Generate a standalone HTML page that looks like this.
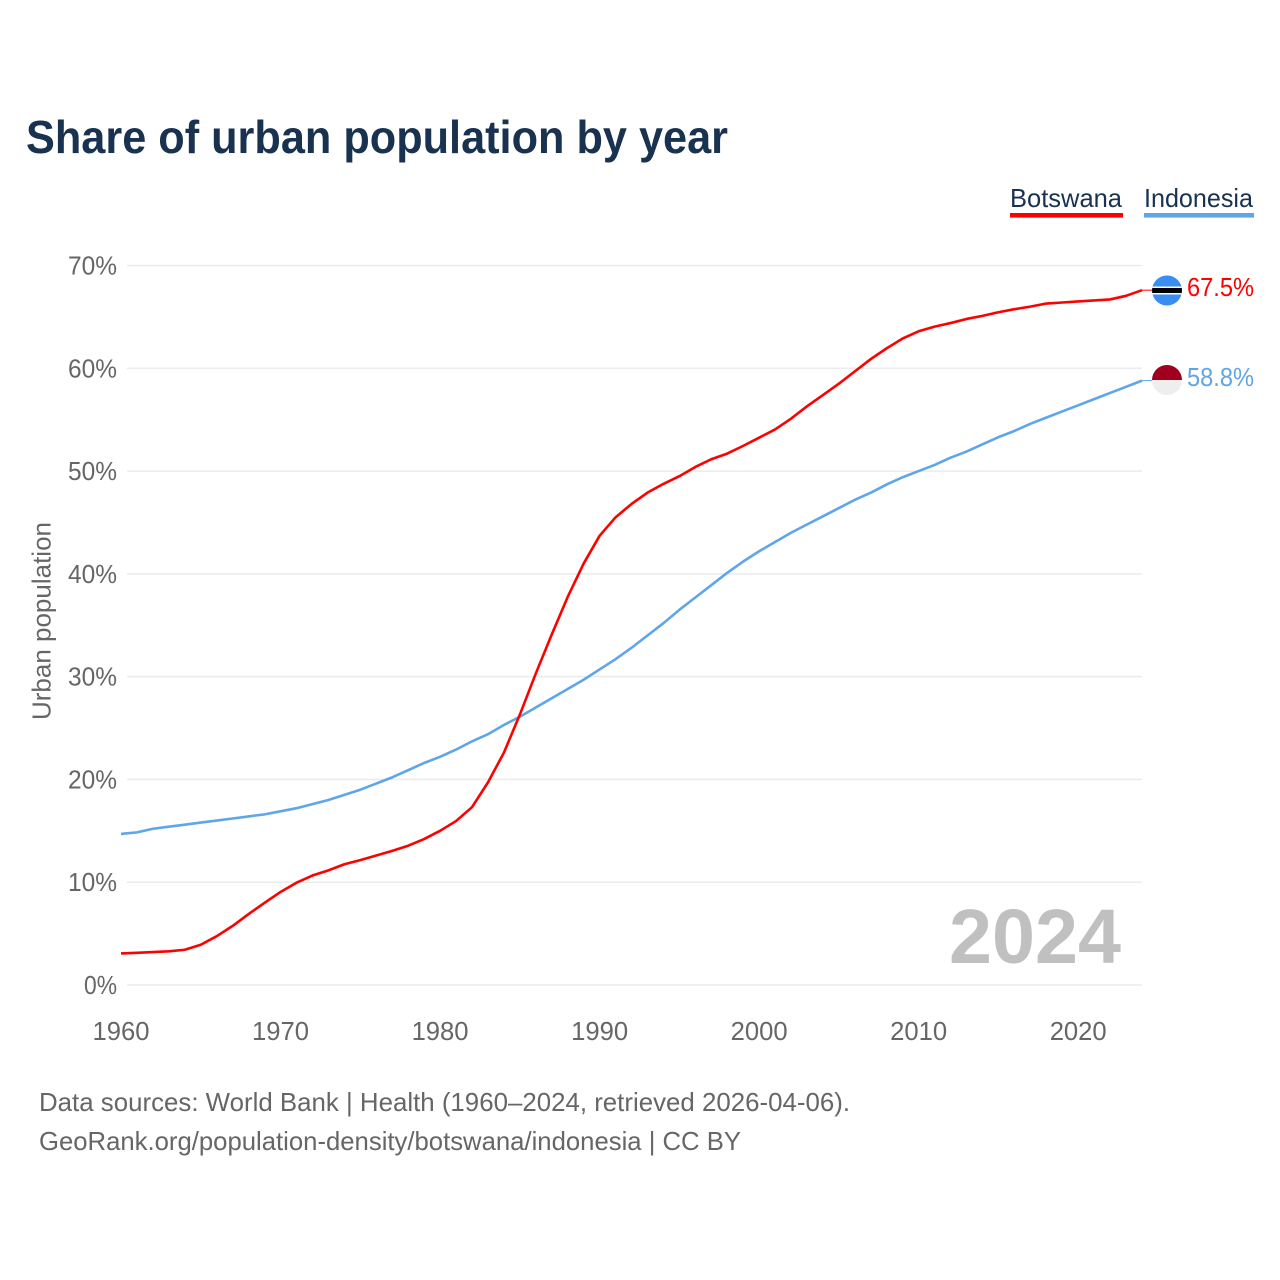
<!DOCTYPE html>
<html lang="en">
<head>
<meta charset="utf-8">
<title>Share of urban population by year</title>
<style>
  html, body { margin: 0; padding: 0; background: #fff; }
  svg { display: block; }
  text { font-family: "Liberation Sans", sans-serif; }
</style>
</head>
<body>
<svg id="chart" xmlns="http://www.w3.org/2000/svg" width="1280" height="1280" viewBox="0 0 1280 1280">
  <rect width="1280" height="1280" fill="#fff"/>
  <text x="26" y="153" font-size="46" font-weight="700" fill="#18324f" textLength="702" lengthAdjust="spacingAndGlyphs">Share of urban population by year</text>

  <g>
    <g>
      <text x="1010" y="207" font-size="26" fill="#18324f" textLength="112" lengthAdjust="spacingAndGlyphs">Botswana</text>
      <rect x="1010" y="213" width="113" height="4.6" fill="#ff0000"/>
    </g>
    <g>
      <text x="1144" y="207" font-size="26" fill="#18324f" textLength="109" lengthAdjust="spacingAndGlyphs">Indonesia</text>
      <rect x="1144" y="213" width="110" height="4.6" fill="#5fa5ea"/>
    </g>
  </g>

  <g id="grid"></g>
  <g id="y-ticks"></g>
  <g id="x-ticks"></g>

  <text transform="translate(50.5,621) rotate(-90)" text-anchor="middle" font-size="26" fill="#666" textLength="198" lengthAdjust="spacingAndGlyphs">Urban population</text>

  <text x="949" y="963" font-size="77" font-weight="700" fill="#c0c0c0" textLength="172" lengthAdjust="spacingAndGlyphs">2024</text>

  <g id="series"></g>

  <defs>
    <clipPath id="flag-clip-bw"><circle cx="1167" cy="290.5" r="15"/></clipPath>
    <clipPath id="flag-clip-id"><circle cx="1167" cy="380" r="15"/></clipPath>
  </defs>
  <g clip-path="url(#flag-clip-bw)">
    <rect x="1152" y="275.5" width="30" height="30" fill="#3a8ef2"/>
    <rect x="1152" y="286.5" width="30" height="8" fill="#fff"/>
    <rect x="1152" y="288" width="30" height="5" fill="#000"/>
  </g>
  <g clip-path="url(#flag-clip-id)">
    <rect x="1152" y="365" width="30" height="15" fill="#a0001e"/>
    <rect x="1152" y="380" width="30" height="15" fill="#eeeeee"/>
  </g>

  <text x="1187" y="296" font-size="26" fill="#ff0000" textLength="67" lengthAdjust="spacingAndGlyphs">67.5%</text>
  <text x="1187" y="386" font-size="26" fill="#5fa5ea" textLength="67" lengthAdjust="spacingAndGlyphs">58.8%</text>

  <text x="39" y="1111" font-size="26" fill="#666" textLength="811" lengthAdjust="spacingAndGlyphs">Data sources: World Bank | Health (1960–2024, retrieved 2026-04-06).</text>
  <text x="39" y="1150" font-size="26" fill="#666" textLength="702" lengthAdjust="spacingAndGlyphs">GeoRank.org/population-density/botswana/indonesia | CC BY</text>
</svg>

<script>
const startYear = 1960;
const yTickValues = [0, 10, 20, 30, 40, 50, 60, 70];
const yTickLabels = ["0%", "10%", "20%", "30%", "40%", "50%", "60%", "70%"];
const xTickValues = [1960, 1970, 1980, 1990, 2000, 2010, 2020];
const xTickLabels = ["1960", "1970", "1980", "1990", "2000", "2010", "2020"];
const botswanaValues = [
  3.07, 3.13, 3.2, 3.28, 3.43, 3.92, 4.75, 5.75, 6.9, 8.0,
  9.05, 9.95, 10.65, 11.15, 11.75, 12.15, 12.6, 13.05, 13.55, 14.2,
  15.0, 15.95, 17.3, 19.7, 22.6, 26.3, 30.3, 34.1, 37.75, 41.0,
  43.7, 45.5, 46.8, 47.9, 48.75, 49.5, 50.4, 51.15, 51.7, 52.45,
  53.25, 54.05, 55.1, 56.3, 57.4, 58.5, 59.7, 60.9, 61.95, 62.9,
  63.6, 64.05, 64.4, 64.8, 65.1, 65.45, 65.75, 66.0, 66.3, 66.4,
  66.5, 66.6, 66.7, 67.05, 67.6
];
const indonesiaValues = [
  14.7, 14.85, 15.2, 15.4, 15.6, 15.8, 16.0, 16.2, 16.4, 16.6,
  16.9, 17.2, 17.6, 18.0, 18.5, 19.0, 19.6, 20.2, 20.9, 21.6,
  22.2, 22.9, 23.7, 24.4, 25.3, 26.1, 27.0, 27.9, 28.8, 29.7,
  30.7, 31.7, 32.8, 34.0, 35.2, 36.5, 37.7, 38.9, 40.1, 41.2,
  42.2, 43.1, 44.0, 44.8, 45.6, 46.4, 47.2, 47.9, 48.7, 49.4,
  50.0, 50.6, 51.3, 51.9, 52.6, 53.3, 53.9, 54.6, 55.2, 55.8,
  56.4, 57.0, 57.6, 58.2, 58.8
];

const NS = "http://www.w3.org/2000/svg";
function xScale(year) { return 121 + (year - 1960) * (1142 - 121) / 64; }
function yScale(value) { return 985 - value * (985 - 265.5) / 70; }

const gridGroup = document.getElementById("grid");
const yTickGroup = document.getElementById("y-ticks");
const xTickGroup = document.getElementById("x-ticks");
const seriesGroup = document.getElementById("series");

yTickValues.forEach(function (value, i) {
  const line = document.createElementNS(NS, "line");
  
  
  line.setAttribute("x1", 127);
  line.setAttribute("x2", 1142);
  line.setAttribute("y1", yScale(value));
  line.setAttribute("y2", yScale(value));
  line.setAttribute("stroke", "#ebebeb");
  line.setAttribute("stroke-width", "1.5");
  gridGroup.appendChild(line);

  const label = document.createElementNS(NS, "text");
  
  
  label.setAttribute("x", 117);
  label.setAttribute("y", yScale(value) + 9);
  label.setAttribute("text-anchor", "end");
  label.setAttribute("font-size", "26");
  label.setAttribute("fill", "#666");
  label.setAttribute("textLength", yTickLabels[i].length === 3 ? "49" : "33");
  label.setAttribute("lengthAdjust", "spacingAndGlyphs");
  label.textContent = yTickLabels[i];
  yTickGroup.appendChild(label);
});

xTickValues.forEach(function (year, i) {
  const label = document.createElementNS(NS, "text");
  
  
  label.setAttribute("x", xScale(year));
  label.setAttribute("y", 1040);
  label.setAttribute("text-anchor", "middle");
  label.setAttribute("font-size", "26");
  label.setAttribute("fill", "#666");
  label.setAttribute("textLength", "57");
  label.setAttribute("lengthAdjust", "spacingAndGlyphs");
  label.textContent = xTickLabels[i];
  xTickGroup.appendChild(label);
});

function linePoints(values) {
  return values.map(function (value, i) {
    return xScale(startYear + i).toFixed(2) + "," + yScale(value).toFixed(2);
  }).join(" ");
}

const botswanaLine = document.createElementNS(NS, "polyline");


botswanaLine.setAttribute("points", linePoints(botswanaValues));
botswanaLine.setAttribute("fill", "none");
botswanaLine.setAttribute("stroke", "#ff0000");
botswanaLine.setAttribute("stroke-width", "2.6");
botswanaLine.setAttribute("stroke-linejoin", "round");

const indonesiaLine = document.createElementNS(NS, "polyline");


indonesiaLine.setAttribute("points", linePoints(indonesiaValues));
indonesiaLine.setAttribute("fill", "none");
indonesiaLine.setAttribute("stroke", "#5fa5ea");
indonesiaLine.setAttribute("stroke-width", "2.6");
indonesiaLine.setAttribute("stroke-linejoin", "round");

seriesGroup.appendChild(indonesiaLine);
seriesGroup.appendChild(botswanaLine);

const botswanaConnector = document.createElementNS(NS, "line");


botswanaConnector.setAttribute("x1", xScale(2024));
botswanaConnector.setAttribute("x2", 1152);
botswanaConnector.setAttribute("y1", yScale(botswanaValues[botswanaValues.length - 1]));
botswanaConnector.setAttribute("y2", yScale(botswanaValues[botswanaValues.length - 1]));
botswanaConnector.setAttribute("stroke", "#ff0000");
botswanaConnector.setAttribute("stroke-width", "1");
seriesGroup.appendChild(botswanaConnector);

const indonesiaConnector = document.createElementNS(NS, "line");


indonesiaConnector.setAttribute("x1", xScale(2024));
indonesiaConnector.setAttribute("x2", 1152);
indonesiaConnector.setAttribute("y1", yScale(indonesiaValues[indonesiaValues.length - 1]));
indonesiaConnector.setAttribute("y2", yScale(indonesiaValues[indonesiaValues.length - 1]));
indonesiaConnector.setAttribute("stroke", "#5fa5ea");
indonesiaConnector.setAttribute("stroke-width", "1");
seriesGroup.appendChild(indonesiaConnector);
</script>
</body>
</html>
